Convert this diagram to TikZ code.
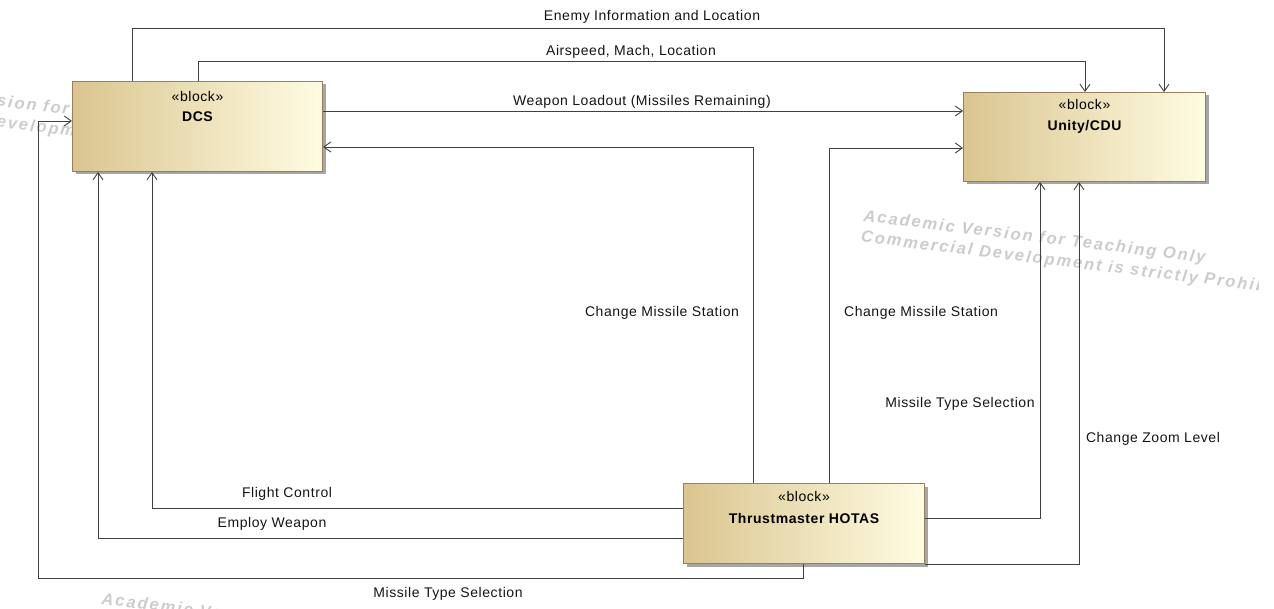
\documentclass[tikz,border=0pt]{standalone}
\usepackage{fontspec}
\setmainfont{Liberation Sans}[LetterSpace=4]
\newfontfamily\wmfont{Liberation Sans}[LetterSpace=12]
\usetikzlibrary{arrows.meta,shadows,calc}
\definecolor{boxL}{HTML}{DAC590}
\definecolor{boxR}{HTML}{FFFCE2}
\definecolor{boxD}{HTML}{9C7E5C}
\definecolor{lineC}{HTML}{404040}
\definecolor{wmC}{HTML}{CCCCCC}
\begin{document}
\begin{tikzpicture}[x=1pt,y=-1pt,
  block/.style={draw=boxD, line width=1pt, left color=boxL, right color=boxR,
    drop shadow={shadow xshift=3pt, shadow yshift=-3pt, fill=black!35, opacity=1},
    anchor=north west, inner sep=0pt},
  stereo/.style={font=\fontsize{14}{16}\selectfont, inner sep=0pt},
  bname/.style={font=\fontsize{14}{16}\selectfont\bfseries, inner sep=0pt},
  conn/.style={draw=lineC, line width=0.9pt},
  arr/.style={conn, -{Straight Barb[length=7pt,width=10pt,line width=0.9pt]}},
  lbl/.style={font=\fontsize{14}{16}\selectfont, text=black!92, inner sep=0pt},
  wm/.style={font=\wmfont\fontsize{16.5}{18}\selectfont\bfseries\itshape, text=wmC, inner sep=0pt, anchor=base west, rotate=-7}
]
\useasboundingbox (0,0) rectangle (1274,609);
% watermarks
\begin{scope}
\clip (0,0) rectangle (1258,609);
\node[wm] (wmRa) at (863,221) {Academic Version for Teaching Only};
\node[wm] (wmRb) at (860.4,241.8) {Commercial Development is strictly Prohibited};
\node[wm] (wmLa) at (-133,90) {Academic Version for Teaching Only};
\node[wm] (wmLb) at (-135.6,110.8) {Commercial Development is strictly Prohibited};
\node[wm] (wmBa) at (101,604) {Academic Version for Teaching Only};
\node[wm] (wmBb) at (98.4,624.8) {Commercial Development is strictly Prohibited};
\end{scope}
% blocks
\node[block, minimum width=250pt, minimum height=90pt] (dcs) at (72,81) {};
\node[block, minimum width=242pt, minimum height=89pt] (unity) at (963,92) {};
\node[block, minimum width=241pt, minimum height=80pt] (hotas) at (683,483) {};
\node[stereo] (dcsS) at ($(dcs.north)+(0,15)$) {«block»};
\node[bname] (dcsN) at ($(dcs.north)+(0,36)$) {DCS};
\node[stereo] (unityS) at ($(unity.north)+(0,13)$) {«block»};
\node[bname] (unityN) at ($(unity.north)+(0,35)$) {Unity/CDU};
\node[stereo] (hotasS) at ($(hotas.north)+(0,13)$) {«block»};
\node[bname] (hotasN) at ($(hotas.north)+(0,35)$) {Thrustmaster HOTAS};
% connectors
\draw[arr] ([xshift=60pt]dcs.north west) -- ++(0,-53) -| ([xshift=201pt]unity.north west);
\draw[arr] ([xshift=126pt]dcs.north west) -- ++(0,-20) -| ([xshift=122pt]unity.north west);
\draw[arr] ([yshift=-30pt]dcs.north east) -- ([yshift=-19pt]unity.north west);
\draw[arr] ([xshift=70pt]hotas.north west) |- ([yshift=-66pt]dcs.north east);
\draw[arr] ([xshift=146pt]hotas.north west) |- ([yshift=-56pt]unity.north west);
\draw[arr] ([yshift=-35pt]hotas.north east) -| ([xshift=77pt]unity.south west);
\draw[arr] (hotas.south east) -| ([xshift=116pt]unity.south west);
\draw[arr] ([yshift=-25pt]hotas.north west) -| ([xshift=80pt]dcs.south west);
\draw[arr] ([yshift=-55pt]hotas.north west) -| ([xshift=26pt]dcs.south west);
\coordinate (mtsc) at (38,578);
\draw[arr] ([xshift=120pt]hotas.south west) |- (mtsc) |- ([yshift=-40pt]dcs.north west);
% labels
\node[lbl] (l1) at (652,16.5) {Enemy Information and Location};
\node[lbl] (l2) at (631,51.5) {Airspeed, Mach, Location};
\node[lbl] (l3) at (642,101.5) {Weapon Loadout (Missiles Remaining)};
\node[lbl] (l4) at (662,312.5) {Change Missile Station};
\node[lbl] (l5) at (921,312.5) {Change Missile Station};
\node[lbl] (l6) at (960,403.5) {Missile Type Selection};
\node[lbl] (l7) at (1153,438.5) {Change Zoom Level};
\node[lbl] (l8) at (287,493.5) {Flight Control};
\node[lbl] (l9) at (272,523.5) {Employ Weapon};
\node[lbl] (l10) at (448,593.5) {Missile Type Selection};
\end{tikzpicture}
\end{document}
